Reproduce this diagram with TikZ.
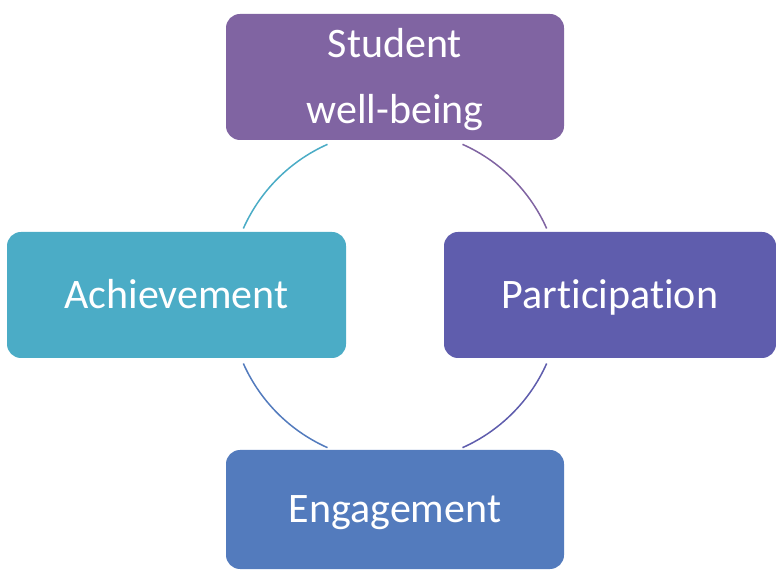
\documentclass[tikz,border=0pt]{standalone}
\usepackage{fontspec}
\setmainfont{Carlito}[Ligatures=NoCommon]
\usepackage{xcolor}
\usepackage{tikz}
\usetikzlibrary{positioning}

\definecolor{wellpurple}{HTML}{8064A2}
\definecolor{achaqua}{HTML}{4BACC6}
\definecolor{partindigo}{HTML}{5F5DAD}
\definecolor{engblue}{HTML}{537BBD}

\begin{document}
\begin{tikzpicture}[x=1pt, y=1pt,
  stage/.style={rounded corners=14pt, text=white, align=center,
    font=\fontsize{42}{66}\selectfont, inner sep=0pt, text depth=0pt},
  oneline/.style={text height=27pt},
  twoline/.style={text height=93pt},
  ring/.style={line width=1.5pt}]
\useasboundingbox (0,0) rectangle (776,570);
% centre of the cycle
\coordinate (hub) at (395,274);
% the four stages
\node[stage, twoline, fill=wellpurple, minimum width=338pt, minimum height=126pt] (wellbeing) at (395,493) {Student\\well-being};
\node[stage, oneline, fill=achaqua, minimum width=339pt, minimum height=126pt] (achieve) at (176.5,275) {Achievement};
\node[stage, oneline, fill=partindigo, minimum width=332pt, minimum height=126pt] (particip) at (610,275) {Participation};
\node[stage, oneline, fill=engblue, minimum width=338pt, minimum height=119pt] (engage) at (395,60.5) {Engagement};
% ring arcs between the stages
\draw[ring, achaqua] (hub) ++(114:166) arc[start angle=114, end angle=156, radius=166];
\draw[ring, wellpurple] (hub) ++(24:166) arc[start angle=24, end angle=66, radius=166];
\draw[ring, partindigo] (hub) ++(-66:166) arc[start angle=-66, end angle=-24, radius=166];
\draw[ring, engblue] (hub) ++(204:166) arc[start angle=204, end angle=246, radius=166];
\end{tikzpicture}
\end{document}
